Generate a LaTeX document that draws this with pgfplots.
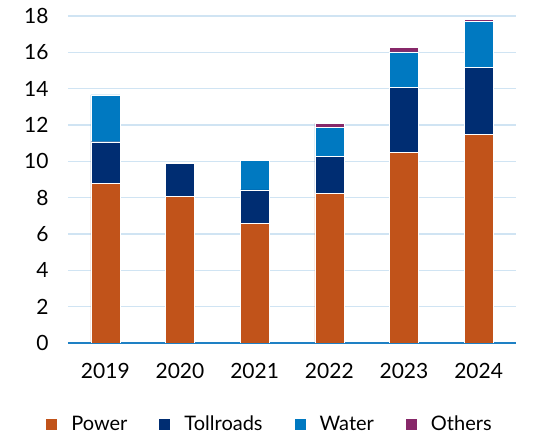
\documentclass[border=0pt]{standalone}
\usepackage{pgfplots}
\pgfplotsset{compat=1.18}
\usepackage{fontspec}
\setmainfont{Lato}
\definecolor{cpower}{RGB}{193,83,26}
\definecolor{ctoll}{RGB}{0,45,114}
\definecolor{cwater}{RGB}{0,121,193}
\definecolor{cother}{RGB}{135,40,105}
\definecolor{cgrid}{RGB}{208,228,243}
\definecolor{caxis}{RGB}{30,128,196}
\begin{document}
\begin{tikzpicture}
\begin{axis}[
  scale only axis, width=448pt, height=327pt,
  ybar stacked, bar width=0.39,
  xmin=-0.5, xmax=5.5, ymin=0, ymax=18,
  xtick={0,...,5}, xticklabels={2019,2020,2021,2022,2023,2024},
  ytick={0,2,...,18},
  /pgf/number format/assume math mode=true,
  ymajorgrids, grid style={cgrid, line width=1.2pt},
  axis x line*=bottom, axis y line*=left,
  y axis line style={draw=none},
  x axis line style={caxis, line width=1.5pt, -},
  major tick length=0pt,
  xticklabel style={font=\fontsize{21}{23}\selectfont, yshift=-17pt},
  yticklabel style={font=\fontsize{21}{23}\selectfont, xshift=-16pt},
  ytick style={draw=none}, xtick style={draw=none},
  every axis plot/.append style={draw=white, line width=0.3pt},
  legend columns=4,
  legend style={draw=none, at={(0.451,-0.248)}, anchor=center,
    font=\fontsize{20}{22}\selectfont, column sep=12pt,
    /tikz/every even column/.append style={column sep=30pt}},
  legend image code/.code={\fill[#1, draw=none] (0pt,-5.5pt) rectangle (11pt,5.5pt);},
]
\coordinate (O) at (rel axis cs:0,0);
\addplot[fill=cpower] coordinates {(0,8.8) (1,8.08) (2,6.57) (3,8.25) (4,10.5) (5,11.47)};
\addplot[fill=ctoll] coordinates {(0,2.28) (1,1.81) (2,1.86) (3,2.02) (4,3.57) (5,3.7)};
\addplot[fill=cwater] coordinates {(0,2.58) (1,0) (2,1.62) (3,1.61) (4,1.95) (5,2.54)};
\addplot[fill=cother] coordinates {(0,0) (1,0) (2,0) (3,0.22) (4,0.26) (5,0.09)};
\legend{Power,Tollroads,Water,Others}
\end{axis}
\pgfresetboundingbox
\path ([shift={(-68pt,-93pt)}]O) rectangle ++(544pt,436pt);
\end{tikzpicture}
\end{document}
